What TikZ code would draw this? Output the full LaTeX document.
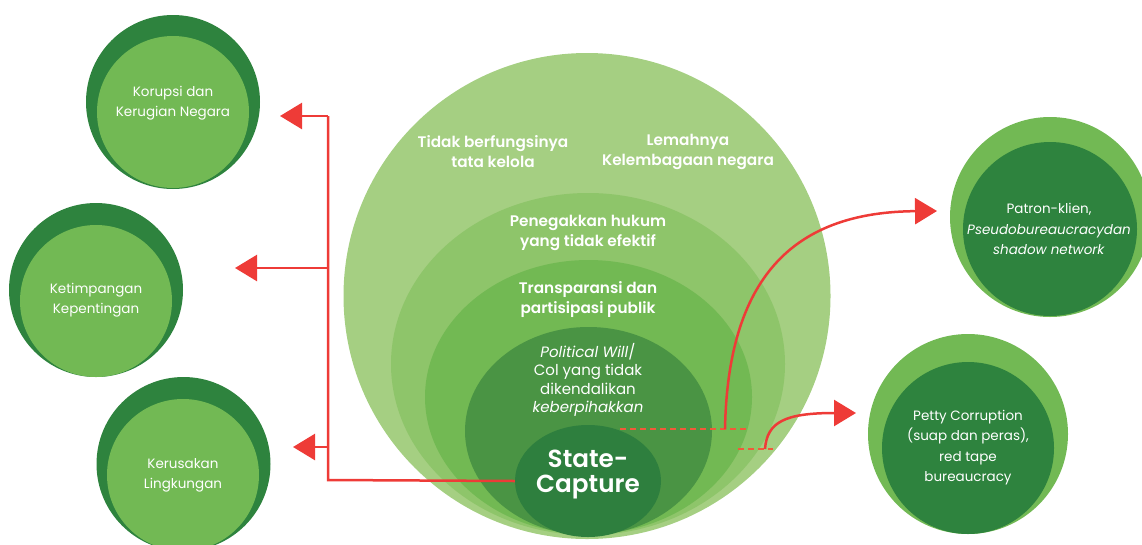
\documentclass[tikz,border=0pt]{standalone}
\usepackage{fontspec}
\setmainfont{Poppins}[BoldFont={Poppins SemiBold},BoldItalicFont={Poppins SemiBold Italic}]
\usetikzlibrary{arrows.meta,shapes.geometric}
\definecolor{dg}{HTML}{2E833E}
\definecolor{lg}{HTML}{72B954}
\definecolor{ca}{HTML}{A5CF82}
\definecolor{cb}{HTML}{8EC56A}
\definecolor{cc}{HTML}{72B953}
\definecolor{cd}{HTML}{4A9444}
\definecolor{ce}{HTML}{2E7F3E}
\definecolor{rd}{HTML}{EE3B37}
\definecolor{rdd}{HTML}{F05A3A}
\begin{document}
\begin{tikzpicture}[x=1pt,y=-1pt,
  disc/.style={circle,inner sep=0pt,minimum size=#1},
  ring/.style={ellipse,inner sep=0pt},
  lbl/.style={text=white,align=center,inner sep=0pt,font=\fontsize{13.5}{20.3}\selectfont},
  clbl/.style={text=white,align=center,inner sep=0pt,font=\fontsize{15.3}{20}\selectfont\bfseries},
  redline/.style={draw=rd,line width=2.5pt},
  tipped/.style={-{Triangle[length=22pt,width=26pt]}},
  dashln/.style={draw=rdd,line width=2pt,dash pattern=on 6pt off 4pt}]
\useasboundingbox (0,0) rectangle (1142,544);
\clip (0,0) rectangle (1142,544);

% central nested ellipses
\node[ring,fill=ca,minimum width=487pt,minimum height=486pt] (e1) at (587,296) {};
\node[ring,fill=cb,minimum width=394pt,minimum height=342pt] (e2) at (588,364) {};
\node[ring,fill=cc,minimum width=327pt,minimum height=274pt] (e3) at (588.5,397) {};
\node[ring,fill=cd,minimum width=247pt,minimum height=208pt] (e4) at (588.5,431) {};
\node[ring,fill=ce,minimum width=146pt,minimum height=112pt] (sc) at (588,481) {};

\node[clbl] (t1) at (493,152) {Tidak berfungsinya\\tata kelola};
\node[clbl] (t2) at (688,152) {Lemahnya\\Kelembagaan negara};
\node[clbl] (t3) at (588,233) {Penegakkan hukum\\yang tidak efektif};
\node[clbl] (t4) at (588,299.5) {Transparansi dan\\partisipasi publik};
\node[text=white,align=center,inner sep=0pt,font=\fontsize{15}{18.5}\selectfont] (t5) at (588,380)
  {\textit{Political Will}/\\Col yang tidak\\dikendalikan\\\textit{keberpihakkan}};
\node[text=white,align=center,inner sep=0pt,font=\fontsize{24.7}{25}\selectfont\bfseries] (sct) at (588,474.5) {State-\\Capture};

% left circles
\node[disc=174pt,fill=dg] (k1o) at (173,102) {};
\node[disc=152pt,fill=lg] (k1) at (173,112) {};
\node[lbl] (k1t) at (173,103) {Korupsi dan\\Kerugian Negara};

\node[disc=174pt,fill=dg] (k2o) at (96,290) {};
\node[disc=152pt,fill=lg] (k2) at (96,301) {};
\node[lbl] (k2t) at (96,300) {Ketimpangan\\Kepentingan};

\node[disc=174pt,fill=dg] (k3o) at (183.5,464) {};
\node[disc=152pt,fill=lg] (k3) at (183,475) {};
\node[lbl] (k3t) at (183,475) {Kerusakan\\Lingkungan};

% right circles
\node[disc=200pt,fill=lg] (r1o) at (1050,217) {};
\node[disc=174pt,fill=dg] (r1) at (1050,229) {};
\node[lbl] (r1t) at (1049,229) {Patron-klien,\\\textit{Pseudobureaucracydan}\\\textit{shadow network}};

\node[disc=200pt,fill=lg] (r2o) at (968,434) {};
\node[disc=172pt,fill=dg] (r2) at (968,448) {};
\node[lbl] (r2t) at (968,447.5) {Petty Corruption\\(suap dan peras),\\red tape\\bureaucracy};

% connector coordinates
\coordinate (bx) at (328,480);
\coordinate (a1) at (280,116);
\coordinate (a2) at (235,268);
\coordinate (a3) at (293,447);
\coordinate (d1s) at (620,429);
\coordinate (d1e) at (747,429);
\coordinate (c1) at (725,429);
\coordinate (d2s) at (738,449);
\coordinate (d2e) at (773,449);
\coordinate (c2) at (765,449);
\coordinate (b1) at (937,211);
\coordinate (b2) at (856,413);

% left bracket
\draw[redline] (sc.west) -- (bx) -- (bx |- a1);
\draw[redline,tipped] (bx |- a1) -- (a1);
\draw[redline,tipped] (bx |- a2) -- (a2);
\draw[redline,tipped] (bx |- a3) -- (a3);

% right connectors
\draw[dashln] (d1s) -- (d1e);
\draw[dashln] (d2s) -- (d2e);
\draw[redline,tipped] (c1) .. controls (728,270) and (800,212) .. (b1);
\draw[redline,tipped] (c2) .. controls (767,422) and (785,413) .. (b2);
\end{tikzpicture}
\end{document}
